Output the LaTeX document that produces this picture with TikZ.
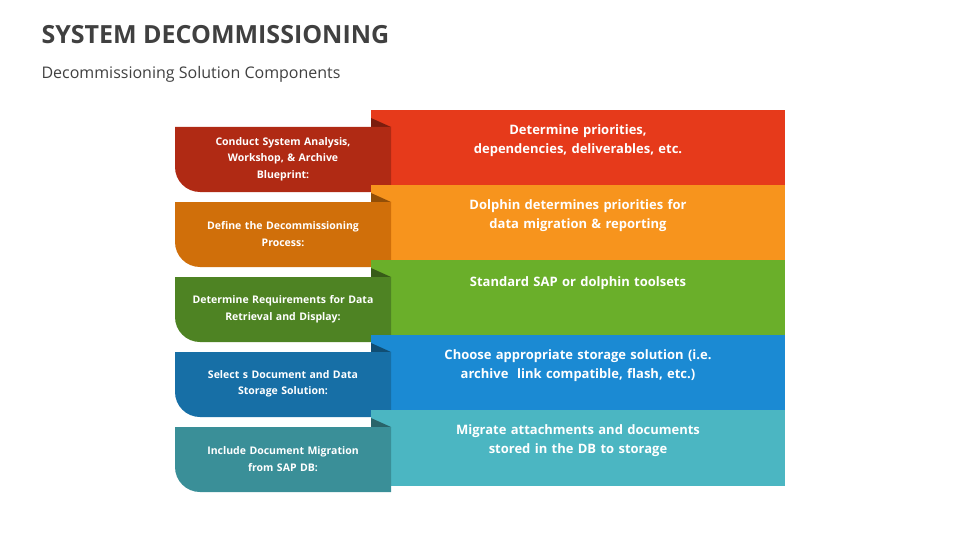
\documentclass[tikz,border=0pt]{standalone}
\usepackage{fontspec}
\setmainfont{Open Sans}
\begin{document}
\begin{tikzpicture}[x=1pt,y=-1pt,
  rbox/.style={inner sep=0pt,text width=300pt,align=center,font=\fontsize{13}{19}\selectfont\bfseries,text=white},
  tabtxt/.style={inner sep=0pt,text width=190pt,align=center,font=\fontsize{10.5}{16.5}\selectfont\bfseries,text=white}]
\useasboundingbox (0,0) rectangle (960,540);
\node[anchor=west,font=\fontsize{25}{30}\selectfont\bfseries,text=black!75] (title) at (38,35) {SYSTEM DECOMMISSIONING};
\node[anchor=west,font=\fontsize{16}{20}\selectfont,text=black!75] (sub) at (38,74) {Decommissioning Solution Components};
\definecolor{r1}{HTML}{E63A1B}\definecolor{t1}{HTML}{B02A14}
\definecolor{r2}{HTML}{F7941D}\definecolor{t2}{HTML}{D06F0A}
\definecolor{r3}{HTML}{6AAF2A}\definecolor{t3}{HTML}{4E8323}
\definecolor{r4}{HTML}{1B8AD3}\definecolor{t4}{HTML}{176FA6}
\definecolor{r5}{HTML}{4BB6C2}\definecolor{t5}{HTML}{3A8F98}
\foreach \i/\txt/\tab in {
 1/{Determine priorities,\\dependencies, deliverables, etc.}/{Conduct System Analysis,\\Workshop, \& Archive\\Blueprint:},
 2/{Dolphin determines priorities for\\data migration \& reporting}/{Define the Decommissioning\\Process:},
 3/{Standard SAP or dolphin toolsets\\\mbox{}}/{Determine Requirements for Data\\Retrieval and Display:},
 4/{Choose appropriate storage solution (i.e.\\archive\ \ link compatible, flash, etc.)}/{Select s Document and Data\\Storage Solution:},
 5/{Migrate attachments and documents\\stored in the DB to storage}/{Include Document Migration\\from SAP DB:}}{
  \pgfmathsetmacro{\ty}{110+75*(\i-1)}
  \pgfmathsetmacro{\tt}{127+75*(\i-1)}
  \fill[r\i, drop shadow/.try] (371,\ty) rectangle (785,\ty+76);
  \fill[t\i!70!black] (371,\tt-9) -- (391,\tt) -- (371,\tt) -- cycle;
  \fill[t\i] (391,\tt) -- (175,\tt) -- (175,\tt+40) [rounded corners=25pt] -- (175,\tt+65) [sharp corners] -- (391,\tt+65) -- cycle;
  \node[rbox] (r\i) at (578,\ty+31) {\txt};
  \node[tabtxt] (t\i) at (283,\tt+32) {\tab};
}
\end{tikzpicture}
\end{document}
